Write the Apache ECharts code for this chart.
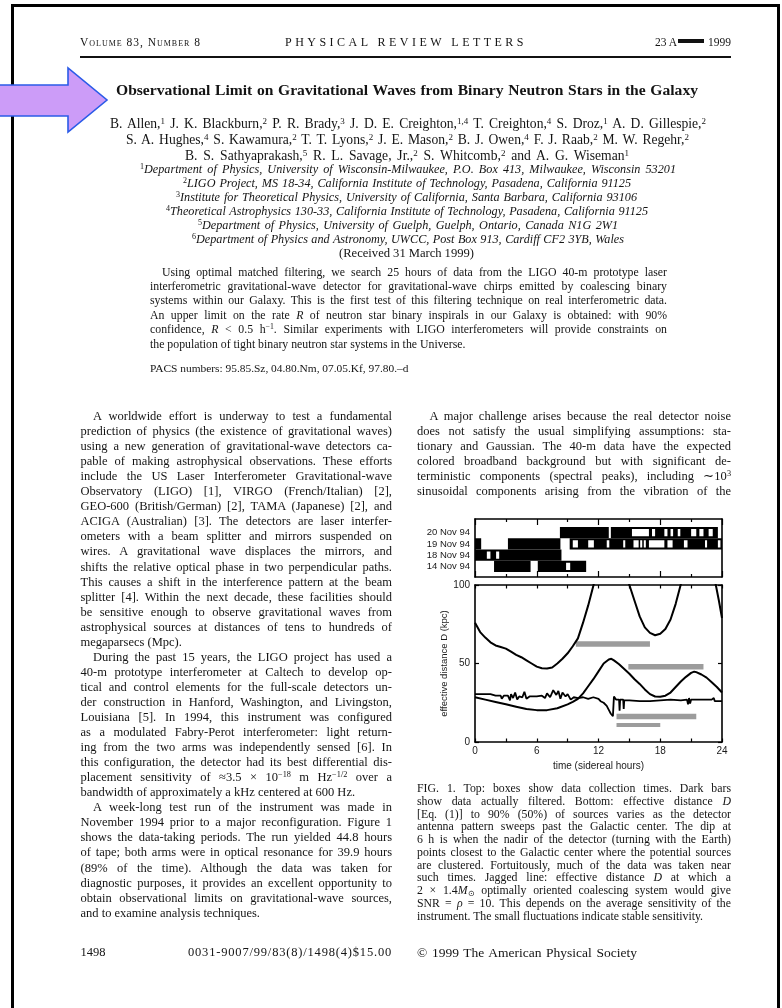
<!DOCTYPE html>
<html>
<head>
<meta charset="utf-8">
<title>Observational Limit on Gravitational Waves from Binary Neutron Stars in the Galaxy</title>
<script src="https://cdn.jsdelivr.net/npm/echarts@6/dist/echarts.min.js"></script>
<style>
  html, body { margin: 0; padding: 0; background: #fff; }
  #page { position: relative; width: 782px; height: 1008px; overflow: hidden; background: #fff; }
  #frame { position: absolute; left: 11px; top: 4px; width: 763px; height: 1100px; border: 3px solid #000; border-bottom: none; }
  #rule { position: absolute; left: 80px; top: 56px; width: 651px; height: 2px; background: #111; }
  #arrow { position: absolute; left: 0; top: 60px; width: 115px; height: 80px; overflow: visible; }
  .ln { position: absolute; white-space: nowrap; color: #141414; font-family: "Liberation Serif", "Times New Roman", serif; }
  .ln sup { font-size: 0.66em; vertical-align: 0.5em; line-height: 0; }
  .ln sub { font-size: 0.66em; vertical-align: -0.25em; line-height: 0; }
  .it { font-style: italic; }
  .it sup { font-style: normal; }
  .bd { font-weight: bold; }
  .sc { font-variant: small-caps; }
  .redact { display: inline-block; width: 26px; height: 4px; background: #111; vertical-align: 0.25em; margin: 0 1px; }
  #chart { position: absolute; left: 0; top: 0; width: 782px; height: 1008px; }
</style>
</head>
<body>
<div id="page">
  <div id="frame"></div>
  <div id="rule"></div>
  <div id="chart"></div>
  <svg id="arrow" viewBox="0 0 115 80">
    <polygon points="-4,25 68,25 68,8 107,40 68,72 68,56 -4,56" fill="#cc9cf8" stroke="#2b5be8" stroke-width="1.6" stroke-linejoin="miter"/>
  </svg>
</div>
<script>
// ---------- Figure 1 data ----------
// rows of the data-collection panel, bottom to top
const rowLabels = ['14 Nov 94', '18 Nov 94', '19 Nov 94', '20 Nov 94'];

// [row, start hour, end hour] of data actually filtered (dark bars)
const filteredBars = [
  [3, 8.25, 13.0], [3, 13.2, 23.6],
  [2, 0, 0.6], [2, 3.2, 8.3], [2, 9.2, 24],
  [1, 0, 8.4],
  [0, 1.85, 5.4], [0, 6.1, 10.8]
];

// [row, start hour, end hour] of data collected but not filtered (open boxes)
const unfilteredBoxes = [
  [3, 15.25, 16.9], [3, 17.2, 17.5], [3, 18.4, 18.7], [3, 19.0, 19.25], [3, 19.7, 19.95],
  [3, 21.0, 21.5], [3, 21.8, 22.2], [3, 22.7, 23.1],
  [2, 9.5, 10.0], [2, 11.0, 11.55], [2, 12.8, 13.05], [2, 14.4, 14.6], [2, 15.4, 15.9],
  [2, 16.05, 16.25], [2, 16.4, 16.6], [2, 16.9, 18.4], [2, 18.7, 19.2], [2, 20.3, 20.65],
  [2, 22.35, 22.55], [2, 23.6, 23.85],
  [1, 1.15, 1.5], [1, 2.05, 2.35],
  [0, 8.85, 9.25]
];

// effective distance D (kpc) to 90% of sources vs sidereal hour
const dist90 = [
  [0, 76], [0.5, 70], [1, 66.5], [1.5, 63.5], [2, 61.5], [2.5, 60.5], [3, 59.5], [3.5, 57.5],
  [4, 55.5], [4.5, 54], [5, 52], [5.5, 50], [6, 48], [6.5, 47], [7, 46.8], [7.5, 47.5],
  [8, 50], [8.5, 53], [9, 56.5], [9.5, 61], [10, 66], [10.5, 76], [11, 87], [11.5, 99.5],
  [12, 113], [13, 128], [14, 118], [14.5, 109], [15, 100], [15.5, 90], [16, 80], [16.5, 73],
  [17, 69.5], [17.5, 68], [18, 69], [18.5, 72], [19, 78], [19.5, 88], [20, 100.5],
  [21, 125], [22, 125], [23, 110], [23.4, 100], [23.7, 90], [24, 79]
];

// effective distance D (kpc) to 50% of sources
const dist50 = [
  [0, 28.5], [1, 27], [2, 25.5], [3, 24], [4, 22.5], [5, 21], [6, 20.3], [7, 20.3],
  [8, 21.5], [9, 24], [9.5, 25.5], [10, 27.5], [10.5, 31], [11, 35.5], [11.5, 40],
  [12, 45], [12.5, 50], [13, 52.5], [13.25, 53], [13.5, 52], [14, 49.5], [14.5, 46.5],
  [15, 43.5], [15.5, 40], [16, 37], [16.5, 33.5], [17, 30.5], [17.5, 29], [18, 28.8],
  [18.5, 29.5], [19, 31.5], [19.5, 35], [20, 38.5], [20.5, 41.5], [21, 44], [21.3, 44.8],
  [21.5, 44.5], [22, 43], [22.5, 41], [23, 38], [23.5, 35], [24, 31.5]
];

// jagged line: distance D at which a 2 x 1.4 Msun optimally oriented system gives SNR = 10
const snrDistance = [
  [0, 30.5], [1.5, 30.5], [2.0, 29.5], [2.5, 29.5], [2.6, 27.5], [2.8, 29.5], [3.2, 29.5],
  [3.4, 26.5], [3.5, 30.5], [3.7, 28], [3.9, 31.5], [4.1, 27], [4.3, 29], [4.6, 28.5],
  [4.8, 32], [5.0, 27.5], [5.3, 29], [6, 29], [6.5, 29.5], [6.8, 28], [7.0, 31], [7.3, 28.5],
  [7.6, 33], [7.9, 30], [8.1, 32.5], [8.3, 27.5], [8.5, 31.5], [8.8, 29], [9.0, 30.5],
  [9.3, 27], [9.6, 28.5], [10, 28], [10.5, 28.5], [11, 27.5], [11.5, 28.5], [12, 27.5],
  [12.2, 26], [12.5, 25], [12.8, 23], [13.0, 20.5], [13.2, 18], [13.4, 16.5], [13.5, 29],
  [13.7, 27], [14.0, 27], [14.05, 20], [14.1, 27], [14.4, 27], [14.45, 21], [14.5, 26.5],
  [15, 26.5], [16, 26], [17, 26], [18, 26.5], [19, 27], [20, 26.5], [20.6, 27], [20.7, 24],
  [20.8, 28], [20.9, 24.5], [21.0, 27], [22, 27], [23, 27], [23.2, 28], [23.3, 26], [24, 26]
];

// grey bars: [start hour, end hour, distance]
const greyBars = [
  [9.8, 17.0, 62.5],
  [14.9, 22.2, 48],
  [13.75, 21.5, 16.2],
  [13.75, 18.0, 10.8]
];

const hourTicks = [0, 6, 12, 18, 24];
const distanceTicks = [0, 50, 100];

// ---------- page text ----------
const page = document.getElementById('page');

function put(html, o) {
  const el = document.createElement('div');
  el.className = 'ln' + (o.cls ? ' ' + o.cls : '');
  el.innerHTML = html;
  el.style.fontSize = o.size + 'px';
  const lh = Math.round(o.size * 1.25);
  el.style.lineHeight = lh + 'px';
  el.style.height = lh + 'px';
  page.appendChild(el);
  let w = el.getBoundingClientRect().width;
  if (o.w) {
    const txt = el.textContent;
    if (o.ls) {
      el.style.letterSpacing = ((o.w - w) / txt.length) + 'px';
    } else {
      const gaps = (txt.match(/ /g) || []).length;
      if (gaps) el.style.wordSpacing = ((o.w - w) / gaps) + 'px';
    }
    w = el.getBoundingClientRect().width;
  }
  let left = o.x;
  if (o.align === 'center') left = o.x - w / 2;
  else if (o.align === 'right') left = o.x - w;
  el.style.left = left + 'px';
  el.style.top = (o.y - lh / 2) + 'px';
}

// kinds: 'i' indented and justified, 'j' justified, 'e' last line of a paragraph
function column(lines, x, w, y0, lead, size, indent, cls) {
  lines.forEach(([kind, text], i) => {
    const y = y0 + i * lead;
    const ix = kind === 'i' ? indent : 0;
    put(text, { x: x + ix, y, size, w: kind === 'e' ? 0 : w - ix, cls });
  });
}

// running head
put('Volume 83, Number 8', { x: 80, y: 42, size: 11.5, w: 121, ls: true, cls: 'sc' });
put('PHYSICAL REVIEW LETTERS', { x: 285, y: 42, size: 12, w: 242, ls: true });
put('23 A<span class="redact"></span> 1999', { x: 731, y: 42, size: 11.5, align: 'right' });

// title and authors
const titleText = 'Observational Limit on Gravitational Waves from Binary Neutron Stars in the Galaxy';
put(titleText, { x: 116, y: 90, size: 15.6, w: 582, cls: 'bd' });

const authorLines = [
  ['B. Allen,<sup>1</sup> J. K. Blackburn,<sup>2</sup> P. R. Brady,<sup>3</sup> J. D. E. Creighton,<sup>1,4</sup> T. Creighton,<sup>4</sup> S. Droz,<sup>1</sup> A. D. Gillespie,<sup>2</sup>', 110, 596, 123],
  ['S. A. Hughes,<sup>4</sup> S. Kawamura,<sup>2</sup> T. T. Lyons,<sup>2</sup> J. E. Mason,<sup>2</sup> B. J. Owen,<sup>4</sup> F. J. Raab,<sup>2</sup> M. W. Regehr,<sup>2</sup>', 126, 563, 139],
  ['B. S. Sathyaprakash,<sup>5</sup> R. L. Savage, Jr.,<sup>2</sup> S. Whitcomb,<sup>2</sup> and A. G. Wiseman<sup>1</sup>', 185, 444, 155]
];
authorLines.forEach(([t, x, w, y]) => put(t, { x, y, size: 13.6, w }));

const affiliationLines = [
  ['<sup>1</sup>Department of Physics, University of Wisconsin-Milwaukee, P.O. Box 413, Milwaukee, Wisconsin 53201', 140, 536, 169],
  ['<sup>2</sup>LIGO Project, MS 18-34, California Institute of Technology, Pasadena, California 91125', 183, 448, 183],
  ['<sup>3</sup>Institute for Theoretical Physics, University of California, Santa Barbara, California 93106', 176, 461, 197],
  ['<sup>4</sup>Theoretical Astrophysics 130-33, California Institute of Technology, Pasadena, California 91125', 166, 482, 211],
  ['<sup>5</sup>Department of Physics, University of Guelph, Guelph, Ontario, Canada N1G 2W1', 198, 420, 225],
  ['<sup>6</sup>Department of Physics and Astronomy, UWCC, Post Box 913, Cardiff CF2 3YB, Wales', 192, 432, 239]
];
affiliationLines.forEach(([t, x, w, y]) => put(t, { x, y, size: 12.2, w, cls: 'it' }));
put('(Received 31 March 1999)', { x: 339, y: 253, size: 12.6, w: 135 });

// abstract
const abstractLines = [
  ['i', 'Using optimal matched filtering, we search 25 hours of data from the LIGO 40-m prototype laser'],
  ['j', 'interferometric gravitational-wave detector for gravitational-wave chirps emitted by coalescing binary'],
  ['j', 'systems within our Galaxy. This is the first test of this filtering technique on real interferometric data.'],
  ['j', 'An upper limit on the rate <i>R</i> of neutron star binary inspirals in our Galaxy is obtained: with 90%'],
  ['j', 'confidence, <i>R</i> &lt; 0.5 h<sup>−1</sup>. Similar experiments with LIGO interferometers will provide constraints on'],
  ['e', 'the population of tight binary neutron star systems in the Universe.']
];
column(abstractLines, 150, 517, 272, 14.4, 11.8, 12);
put('PACS numbers: 95.85.Sz, 04.80.Nm, 07.05.Kf, 97.80.–d', { x: 150, y: 368, size: 11.4 });

// body, left column
const leftColumn = [
  ['i', 'A worldwide effort is underway to test a fundamental'],
  ['j', 'prediction of physics (the existence of gravitational waves)'],
  ['j', 'using a new generation of gravitational-wave detectors ca-'],
  ['j', 'pable of making astrophysical observations. These efforts'],
  ['j', 'include the US Laser Interferometer Gravitational-wave'],
  ['j', 'Observatory (LIGO) [1], VIRGO (French/Italian) [2],'],
  ['j', 'GEO-600 (British/German) [2], TAMA (Japanese) [2], and'],
  ['j', 'ACIGA (Australian) [3]. The detectors are laser interfer-'],
  ['j', 'ometers with a beam splitter and mirrors suspended on'],
  ['j', 'wires. A gravitational wave displaces the mirrors, and'],
  ['j', 'shifts the relative optical phase in two perpendicular paths.'],
  ['j', 'This causes a shift in the interference pattern at the beam'],
  ['j', 'splitter [4]. Within the next decade, these facilities should'],
  ['j', 'be sensitive enough to observe gravitational waves from'],
  ['j', 'astrophysical sources at distances of tens to hundreds of'],
  ['e', 'megaparsecs (Mpc).'],
  ['i', 'During the past 15 years, the LIGO project has used a'],
  ['j', '40-m prototype interferometer at Caltech to develop op-'],
  ['j', 'tical and control elements for the full-scale detectors un-'],
  ['j', 'der construction in Hanford, Washington, and Livingston,'],
  ['j', 'Louisiana [5]. In 1994, this instrument was configured'],
  ['j', 'as a modulated Fabry-Perot interferometer: light return-'],
  ['j', 'ing from the two arms was independently sensed [6]. In'],
  ['j', 'this configuration, the detector had its best differential dis-'],
  ['j', 'placement sensitivity of ≈3.5 × 10<sup>−18</sup> m Hz<sup>−1/2</sup> over a'],
  ['e', 'bandwidth of approximately a kHz centered at 600 Hz.'],
  ['i', 'A week-long test run of the instrument was made in'],
  ['j', 'November 1994 prior to a major reconfiguration. Figure 1'],
  ['j', 'shows the data-taking periods. The run yielded 44.8 hours'],
  ['j', 'of tape; both arms were in optical resonance for 39.9 hours'],
  ['j', '(89% of the time). Although the data was taken for'],
  ['j', 'diagnostic purposes, it provides an excellent opportunity to'],
  ['j', 'obtain observational limits on gravitational-wave sources,'],
  ['e', 'and to examine analysis techniques.']
];
column(leftColumn, 80.5, 311.5, 416, 15.05, 12.5, 12.5);

// body, right column
const rightColumn = [
  ['i', 'A major challenge arises because the real detector noise'],
  ['j', 'does not satisfy the usual simplifying assumptions: sta-'],
  ['j', 'tionary and Gaussian. The 40-m data have the expected'],
  ['j', 'colored broadband background but with significant de-'],
  ['j', 'terministic components (spectral peaks), including ∼10<sup>3</sup>'],
  ['j', 'sinusoidal components arising from the vibration of the']
];
column(rightColumn, 417, 314, 416, 15.05, 12.5, 12.5);

// figure caption
const captionLines = [
  ['j', 'FIG. 1. Top: boxes show data collection times. Dark bars'],
  ['j', 'show data actually filtered. Bottom: effective distance <i>D</i>'],
  ['j', '[Eq. (1)] to 90% (50%) of sources varies as the detector'],
  ['j', 'antenna pattern sweeps past the Galactic center. The dip at'],
  ['j', '6 h is when the nadir of the detector (turning with the Earth)'],
  ['j', 'points closest to the Galactic center where the potential sources'],
  ['j', 'are clustered. Fortuitously, much of the data was taken near'],
  ['j', 'such times. Jagged line: effective distance <i>D</i> at which a'],
  ['j', '2 × 1.4<i>M</i><sub>⊙</sub> optimally oriented coalescing system would give'],
  ['j', 'SNR = <i>ρ</i> = 10. This depends on the average sensitivity of the'],
  ['e', 'instrument. The small fluctuations indicate stable sensitivity.']
];
column(captionLines, 417, 314, 788.5, 12.75, 11.8, 0);

// foot line
put('1498', { x: 80.5, y: 952, size: 12.5 });
put('0031-9007/99/83(8)/1498(4)$15.00', { x: 188, y: 952, size: 12.5, w: 204, ls: true });
put('© 1999 The American Physical Society', { x: 417, y: 952, size: 13.5, w: 220 });

// ---------- Figure 1 chart ----------
const chart = echarts.init(document.getElementById('chart'), null, { renderer: 'canvas' });
const sans = '"Liberation Sans", Arial, Helvetica, sans-serif';
const frameLine = { show: true, onZero: false, lineStyle: { color: '#000', width: 1.6 } };
const tickStyle = { color: '#000', width: 1.2 };
const labelStyle = { fontFamily: sans, fontSize: 10, color: '#1a1a1a' };

function barItem(fill, inset) {
  return function (params, api) {
    const row = api.value(0);
    const a = api.coord([api.value(1), row]);
    const b = api.coord([api.value(2), row]);
    const h = api.size([0, 1])[1];
    return {
      type: 'rect',
      shape: { x: a[0], y: a[1] - h / 2 + inset, width: b[0] - a[0], height: h - 2 * inset },
      style: { fill }
    };
  };
}

const option = {
  animation: false,
  backgroundColor: 'transparent',
  grid: [
    { left: 475, top: 519, width: 247, height: 58 },
    { left: 475, top: 527, width: 247, height: 45 },
    { left: 475, top: 585, width: 247, height: 157 }
  ],
  xAxis: [
    {
      gridIndex: 0, type: 'value', min: 0, max: 24, interval: 6, position: 'bottom',
      axisLine: frameLine,
      axisTick: { show: true, inside: true, length: 6, lineStyle: tickStyle },
      minorTick: { show: true, splitNumber: 2, length: 3, lineStyle: tickStyle },
      axisLabel: { show: false }, splitLine: { show: false }
    },
    {
      gridIndex: 0, type: 'value', min: 0, max: 24, interval: 6, position: 'top',
      axisLine: frameLine,
      axisTick: { show: true, inside: true, length: 6, lineStyle: tickStyle },
      minorTick: { show: true, splitNumber: 2, length: 3, lineStyle: tickStyle },
      axisLabel: { show: false }, splitLine: { show: false }
    },
    { gridIndex: 1, type: 'value', min: 0, max: 24, show: false },
    {
      gridIndex: 2, type: 'value', min: 0, max: 24, interval: 6, position: 'bottom',
      axisLine: frameLine,
      axisTick: { show: true, inside: true, length: 3.5, lineStyle: tickStyle },
      minorTick: { show: true, splitNumber: 2, length: 3.5, lineStyle: tickStyle },
      axisLabel: Object.assign({ margin: 4, formatter: v => (hourTicks.indexOf(v) >= 0 ? String(v) : '') }, labelStyle),
      splitLine: { show: false },
      name: 'time (sidereal hours)', nameLocation: 'middle', nameGap: 19,
      nameTextStyle: { fontFamily: sans, fontSize: 10, color: '#1a1a1a' }
    },
    {
      gridIndex: 2, type: 'value', min: 0, max: 24, interval: 6, position: 'top',
      axisLine: frameLine,
      axisTick: { show: true, inside: true, length: 3.5, lineStyle: tickStyle },
      minorTick: { show: true, splitNumber: 2, length: 3.5, lineStyle: tickStyle },
      axisLabel: { show: false }, splitLine: { show: false }
    }
  ],
  yAxis: [
    { gridIndex: 0, type: 'value', min: 0, max: 1, position: 'left', axisLine: frameLine, axisTick: { show: false }, axisLabel: { show: false }, splitLine: { show: false } },
    { gridIndex: 0, type: 'value', min: 0, max: 1, position: 'right', axisLine: frameLine, axisTick: { show: false }, axisLabel: { show: false }, splitLine: { show: false } },
    {
      gridIndex: 1, type: 'category', data: rowLabels, position: 'left',
      axisLine: { show: false }, axisTick: { show: false }, splitLine: { show: false },
      axisLabel: Object.assign({ margin: 5, interval: 0 }, labelStyle, { fontSize: 9.5 })
    },
    {
      gridIndex: 2, type: 'value', min: 0, max: 100, interval: 50, position: 'left',
      axisLine: frameLine,
      axisTick: { show: true, inside: true, length: 4, lineStyle: tickStyle },
      axisLabel: Object.assign({ margin: 5, formatter: v => (distanceTicks.indexOf(v) >= 0 ? String(v) : '') }, labelStyle),
      splitLine: { show: false },
      name: 'effective distance D (kpc)', nameLocation: 'middle', nameGap: 17, nameRotate: 90,
      nameTextStyle: { fontFamily: sans, fontSize: 9.5, color: '#1a1a1a' }
    },
    {
      gridIndex: 2, type: 'value', min: 0, max: 100, interval: 50, position: 'right',
      axisLine: frameLine,
      axisTick: { show: true, inside: true, length: 4, lineStyle: tickStyle },
      axisLabel: { show: false }, splitLine: { show: false }
    }
  ],
  series: [
    {
      type: 'custom', name: 'filtered', xAxisIndex: 2, yAxisIndex: 2,
      data: filteredBars, encode: { x: [1, 2], y: 0 },
      renderItem: barItem('#000', 0), z: 2
    },
    {
      type: 'custom', name: 'collected', xAxisIndex: 2, yAxisIndex: 2,
      data: unfilteredBoxes, encode: { x: [1, 2], y: 0 },
      renderItem: barItem('#fff', 2), z: 3
    },
    {
      type: 'custom', name: 'grey bars', xAxisIndex: 3, yAxisIndex: 3,
      data: greyBars, encode: { x: [0, 1], y: 2 },
      renderItem: function (params, api) {
        const a = api.coord([api.value(0), api.value(2)]);
        const b = api.coord([api.value(1), api.value(2)]);
        return {
          type: 'line',
          shape: { x1: a[0], y1: a[1], x2: b[0], y2: b[1] },
          style: { stroke: '#9c9c9c', lineWidth: params.dataIndex === 3 ? 4 : 5.5 }
        };
      },
      z: 2
    },
    {
      type: 'line', name: '90%', xAxisIndex: 3, yAxisIndex: 3, data: dist90,
      symbol: 'none', clip: true, lineStyle: { color: '#000', width: 2 }, z: 4
    },
    {
      type: 'line', name: '50%', xAxisIndex: 3, yAxisIndex: 3, data: dist50,
      symbol: 'none', clip: true, lineStyle: { color: '#000', width: 2 }, z: 4
    },
    {
      type: 'line', name: 'SNR = 10', xAxisIndex: 3, yAxisIndex: 3, data: snrDistance,
      symbol: 'none', clip: true, lineStyle: { color: '#000', width: 1.8 }, z: 4
    }
  ]
};
chart.setOption(option);
</script>
</body>
</html>
